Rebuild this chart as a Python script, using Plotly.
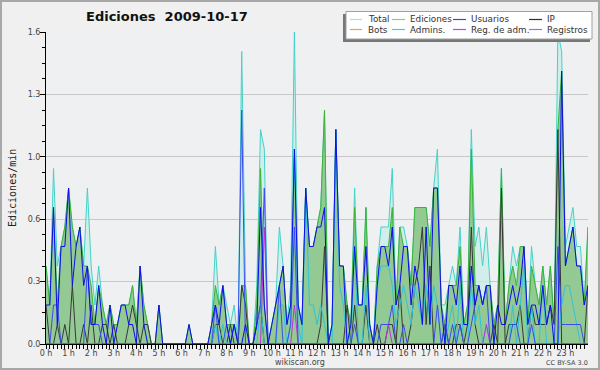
import plotly.graph_objects as go

# ---------------- data (edits per minute, 10-minute resolution, 0:00 .. 24:00) ----------------
minutes = list(range(0, 1441, 10))
hour_labels = [f"{h} h" for h in range(24)]

total = [
    .4, .2, .9, .4, .5, .6,
    .8, .6, .5, .6, .4, .8,
    .4, .2, .4, .2, .1, .2,
    .1, .1, .2, .2, .2, .3,
    .1, .4, .2, .1, 0, 0,
    .2, 0, 0, 0, 0, 0,
    0, 0, .1, 0, 0, 0,
    0, 0, .1, .5, .2, .3,
    .2, .1, .2, 0, 1.5, .3,
    0, 0, .3, 1.1, 1.0, 0,
    .1, .2, .6, .4, .1, .3,
    1.6, .2, .1, .8, .5, .5,
    .6, .7, 1.2, 0, .1, 1.1,
    .4, .4, .2, .1, .8, .2,
    .2, .7, .1, 0, .4, .6,
    .6, .6, .9, .2, .6, .6,
    .5, .3, .7, .7, .7, .7,
    .5, .8, 1.0, .2, .2, .3,
    .4, .3, .6, .1, .2, 1.1,
    .5, .6, .4, .6, .3, .1,
    .2, .9, .1, .3, .5, .4,
    .5, .5, .1, .5, .3, .2,
    .4, .2, .4, .1, 1.6, 1.5,
    .5, .6, .7, .5, .5, .2,
    .6]

ediciones = [
    .4, .2, .7, .2, .5, .6,
    .8, .6, .5, .6, .4, .4,
    .3, .1, .3, .2, .1, .2,
    .1, .1, .2, .2, .2, .3,
    .1, .4, .2, .1, 0, 0,
    .2, 0, 0, 0, 0, 0,
    0, 0, .1, 0, 0, 0,
    0, 0, .1, .3, .2, .3,
    .1, .1, .1, 0, .3, .3,
    0, 0, .2, .9, .2, 0,
    .1, .2, .3, .4, .1, .2,
    1.0, .2, .1, .8, .5, .5,
    .6, .7, 1.2, 0, .1, 1.1,
    .4, .4, .2, .1, .7, .2,
    .2, .7, .1, 0, .4, .5,
    .5, .5, .7, .2, .6, .5,
    .5, .3, .7, .7, .7, .7,
    .5, .8, .8, .2, .1, .3,
    .3, .3, .5, .1, .2, 1.0,
    .3, .3, .2, .3, .3, .1,
    .2, .9, .1, .3, .4, .3,
    .5, .5, .1, .4, .3, .2,
    .4, .2, .4, .1, 1.1, 1.4,
    .4, .5, .6, .4, .4, .2,
    .6]

usuarios = [
    .2, .2, .7, .1, .5, .5,
    .8, .3, .5, .6, .3, .4,
    .1, .1, .3, .1, 0, .2,
    0, .1, .2, .2, .1, .1,
    0, .4, .1, 0, 0, 0,
    .2, 0, 0, 0, 0, 0,
    0, 0, .1, 0, 0, 0,
    0, 0, .1, .2, .1, .3,
    .1, 0, .1, 0, 0, .1,
    0, 0, .1, .7, .2, 0,
    .1, .2, .3, .4, .1, .2,
    1.0, .2, .1, .8, .5, .5,
    .6, .6, .7, 0, .1, 1.1,
    .4, .4, 0, .1, .5, .2,
    .2, .5, .1, 0, .3, .5,
    .5, .4, .6, .2, .3, .5,
    .5, .2, .4, .3, .1, .6,
    .1, .8, .8, .2, 0, .3,
    .3, .2, .4, .1, .1, .4,
    .2, .3, .2, .3, .3, 0,
    .2, .1, .1, .2, .3, .2,
    .3, .5, .1, .2, .2, .1,
    .3, .1, .2, 0, 0, 1.4,
    .4, .5, .6, .4, .4, .2,
    .3]

ip = [
    .2, 0, 0, .1, 0, .1,
    0, .3, 0, 0, .1, 0,
    .2, 0, 0, .1, .1, 0,
    .1, 0, 0, 0, .1, .2,
    .1, 0, .1, .1, 0, 0,
    0, 0, 0, 0, 0, 0,
    0, 0, 0, 0, 0, 0,
    0, 0, 0, .1, .1, 0,
    0, .1, 0, 0, .3, .2,
    0, 0, .1, .2, 0, 0,
    0, 0, 0, 0, 0, 0,
    0, 0, 0, 0, 0, 0,
    0, .1, .5, 0, 0, 0,
    0, 0, .2, 0, .2, 0,
    0, .2, 0, 0, .1, 0,
    0, .1, .1, 0, .3, 0,
    0, .1, .3, .4, .6, .1,
    .4, 0, 0, 0, .1, 0,
    0, .1, .1, 0, .1, .6,
    .1, 0, 0, 0, 0, .1,
    0, .8, 0, .1, .1, .1,
    .2, 0, 0, .2, .1, .1,
    .1, .1, .2, .1, 1.1, 0,
    0, 0, 0, 0, 0, 0,
    .3]

bots = [0] * 145

admins = [
    0, 0, 0, 0, 0, 0,
    0, 0, 0, 0, 0, 0,
    0, 0, 0, 0, 0, 0,
    0, 0, 0, 0, 0, 0,
    0, 0, 0, 0, 0, 0,
    0, 0, 0, 0, 0, 0,
    0, 0, 0, 0, 0, 0,
    0, 0, 0, .1, 0, .1,
    0, 0, 0, 0, 0, 0,
    0, 0, 0, .2, 0, 0,
    0, 0, .2, .2, 0, .1,
    1.0, .1, 0, .8, .2, .2,
    .1, .2, .1, 0, 0, 1.1,
    .3, .2, 0, 0, .5, 0,
    0, .3, 0, 0, .3, .4,
    .4, .4, .3, .1, .2, .3,
    .2, .1, .3, .2, .1, .3,
    .1, .3, .2, 0, 0, .1,
    .2, 0, .3, 0, 0, .3,
    .1, .2, 0, .1, 0, 0,
    0, 0, 0, 0, .2, 0,
    .2, .4, 0, .2, 0, 0,
    .3, 0, 0, 0, 0, .2,
    .3, .3, .2, .1, 0, 0,
    0]

reg_adm = [
    0, 0, 0, 0, 0, 0,
    0, 0, 0, 0, 0, 0,
    0, 0, 0, 0, 0, 0,
    0, 0, 0, 0, 0, 0,
    0, 0, 0, 0, 0, 0,
    0, 0, 0, 0, 0, 0,
    0, 0, 0, 0, 0, 0,
    0, 0, 0, 0, 0, 0,
    0, 0, 0, 0, 0, 0,
    0, 0, 0, 0, .6, 0,
    0, 0, 0, 0, 0, 0,
    .2, 0, 0, 0, 0, 0,
    0, 0, 0, 0, 0, 0,
    0, 0, 0, 0, 0, 0,
    0, 0, 0, 0, 0, 0,
    0, .1, 0, 0, 0, 0,
    0, 0, 0, 0, 0, 0,
    0, 0, 0, 0, 0, 0,
    0, 0, 0, 0, 0, 0,
    0, 0, 0, .1, 0, 0,
    0, 0, 0, 0, 0, 0,
    0, 0, 0, 0, 0, 0,
    0, 0, 0, 0, 0, 0,
    0, 0, 0, 0, 0, 0,
    0]

registros = [
    0, 0, .2, .2, 0, 0,
    0, 0, 0, 0, 0, .4,
    .1, .1, .1, 0, 0, 0,
    0, 0, 0, 0, 0, 0,
    0, 0, 0, 0, 0, 0,
    0, 0, 0, 0, 0, 0,
    0, 0, 0, 0, 0, 0,
    0, 0, 0, .2, 0, 0,
    .1, 0, .1, 0, 1.2, 0,
    0, 0, .1, .2, .8, 0,
    0, 0, .3, 0, 0, .1,
    .6, 0, 0, 0, 0, 0,
    0, 0, 0, 0, 0, 0,
    0, 0, 0, 0, .1, 0,
    0, 0, 0, 0, 0, .1,
    .1, .1, .2, 0, 0, .1,
    0, 0, 0, 0, 0, 0,
    0, 0, .2, 0, .1, 0,
    .1, 0, .1, 0, 0, .1,
    .2, .3, .2, .3, 0, 0,
    0, 0, 0, 0, .1, .1,
    0, 0, 0, .1, 0, 0,
    0, 0, 0, 0, .5, .1,
    .1, .1, .1, .1, .1, 0,
    0]

for s in (total, ediciones, usuarios, ip, bots, admins, reg_adm, registros):
    assert len(s) == len(minutes)

legend_names = ["Total", "Ediciones", "Usuarios", "IP",
                "Bots", "Admins.", "Reg. de adm.", "Registros"]
legend_colors = ["#a8e2de", "#84cf84", "#4444dd", "#303030",
                 "#f0a040", "#44ccd8", "#c444e0", "#7482f0"]

# ---------------- figure ----------------
W, H = 600, 370
ML, MR, MT, MB = 46, 12, 32, 26


def px(x):
    return (x - ML) / (W - ML - MR)


def py(y):
    return (H - MB - y) / (H - MT - MB)


hours = [m / 60 for m in minutes]
fig = go.Figure()

fig.add_trace(go.Scatter(x=hours, y=total, mode="lines", fill="tozeroy",
                         fillcolor="rgba(200,238,232,0.75)",
                         line=dict(color="#44d2c8", width=1)))
fig.add_trace(go.Scatter(x=hours, y=ediciones, mode="lines", fill="tozeroy",
                         fillcolor="#93c993",
                         line=dict(color="#38b438", width=1)))
line_series = [
    (bots, "#f0a040"),
    (ip, "#383838"),
    (admins, "#30c4d8"),
    (reg_adm, "#c030e0"),
    (registros, "#3a4cf0"),
    (usuarios, "#0c0cf0"),
]
for vals, col in line_series:
    fig.add_trace(go.Scatter(x=hours, y=vals, mode="lines",
                             line=dict(color=col, width=1)))

tick_font = dict(family="DejaVu Sans", size=8, color="#444")

fig.update_xaxes(range=[0, 24], tickmode="array", automargin=False,
                 tickvals=list(range(24)), ticktext=hour_labels,
                 showgrid=False, zeroline=False,
                 showline=True, linecolor="black", linewidth=1,
                 ticks="outside", ticklen=4, tickcolor="black", tickwidth=1,
                 ticklabelstandoff=-3,
                 tickfont=tick_font,
                 minor=dict(tickvals=[m / 60 for m in minutes if m % 60],
                            ticks="outside", ticklen=4, tickcolor="black"))
fig.update_yaxes(range=[0, 1.6], tickmode="array", automargin=False,
                 tickvals=[0, 0.32, 0.64, 0.96, 1.28, 1.6],
                 ticktext=["0.0", "0.3", "0.6", "1.0", "1.3", "1.6"],
                 showgrid=True, gridcolor="#c8c8c8", gridwidth=1,
                 zeroline=False,
                 showline=True, linecolor="black", linewidth=1,
                 ticks="outside", ticklen=5, tickcolor="black",
                 ticklabelstandoff=-2,
                 tickfont=tick_font,
                 minor=dict(tickvals=[0.08, 0.16, 0.24, 0.4, 0.48, 0.56,
                                      0.72, 0.8, 0.88, 1.04, 1.12, 1.2,
                                      1.36, 1.44, 1.52],
                            ticks="outside", ticklen=3, tickcolor="black"))

shapes = []
annotations = []

# outer border
shapes.append(dict(type="rect", xref="paper", yref="paper",
                   x0=px(1), x1=px(599), y0=py(369), y1=py(1),
                   line=dict(color="#a8a8a8", width=2), layer="above"))

# legend box with shadow
shapes.append(dict(type="rect", xref="paper", yref="paper",
                   x0=px(343), x1=px(590), y0=py(42), y1=py(14),
                   fillcolor="#777777", line=dict(width=0), layer="above"))
shapes.append(dict(type="rect", xref="paper", yref="paper",
                   x0=px(346), x1=px(592), y0=py(39), y1=py(11.5),
                   fillcolor="white", line=dict(color="#a0a0a0", width=1),
                   layer="above"))
sw_x = [(350, 362), (392, 405), (453, 466), (529, 542)]
txt_x = [366, 408, 469, 545]
row_y = [19.5, 29.5]
for k, (name, col) in enumerate(zip(legend_names, legend_colors)):
    r, c = divmod(k, 4)
    shapes.append(dict(type="line", xref="paper", yref="paper",
                       x0=px(sw_x[c][0]), x1=px(sw_x[c][1]),
                       y0=py(row_y[r]), y1=py(row_y[r]),
                       line=dict(color=col, width=1.2), layer="above"))
    annotations.append(dict(text=name, xref="paper", yref="paper",
                            x=px(txt_x[c]), y=py(row_y[r]),
                            xanchor="left", yanchor="middle", showarrow=False,
                            font=dict(family="DejaVu Sans", size=8.8, color="#333")))

# title
annotations.append(dict(text="<b>Ediciones\u00a0\u00a02009-10-17</b>",
                        xref="paper", yref="paper", x=px(167), y=py(17),
                        xanchor="center", yanchor="middle", showarrow=False,
                        font=dict(family="DejaVu Sans", size=13, color="#111")))
# y-axis title
annotations.append(dict(text="Ediciones/min", xref="paper", yref="paper",
                        x=px(12), y=py(188), textangle=-90,
                        xanchor="center", yanchor="middle", showarrow=False,
                        font=dict(family="DejaVu Sans Mono", size=10, color="#222")))
# footer
annotations.append(dict(text="wikiscan.org", xref="paper", yref="paper",
                        x=px(300), y=py(362.5), xanchor="center", yanchor="middle",
                        showarrow=False,
                        font=dict(family="DejaVu Sans", size=8, color="#444")))
annotations.append(dict(text="CC BY-SA 3.0", xref="paper", yref="paper",
                        x=px(590), y=py(363), xanchor="right", yanchor="middle",
                        showarrow=False,
                        font=dict(family="DejaVu Sans", size=6.5, color="#444")))

fig.update_layout(width=W, height=H,
                  margin=dict(l=ML, r=MR, t=MT, b=MB, pad=0, autoexpand=False),
                  paper_bgcolor="#f0f0f0", plot_bgcolor="#eef0f2",
                  showlegend=False, shapes=shapes, annotations=annotations)

fig.write_html("out.html",
               config={"displayModeBar": False},
               post_script="document.body.style.margin='0';"
                           "document.body.style.overflow='hidden';")
